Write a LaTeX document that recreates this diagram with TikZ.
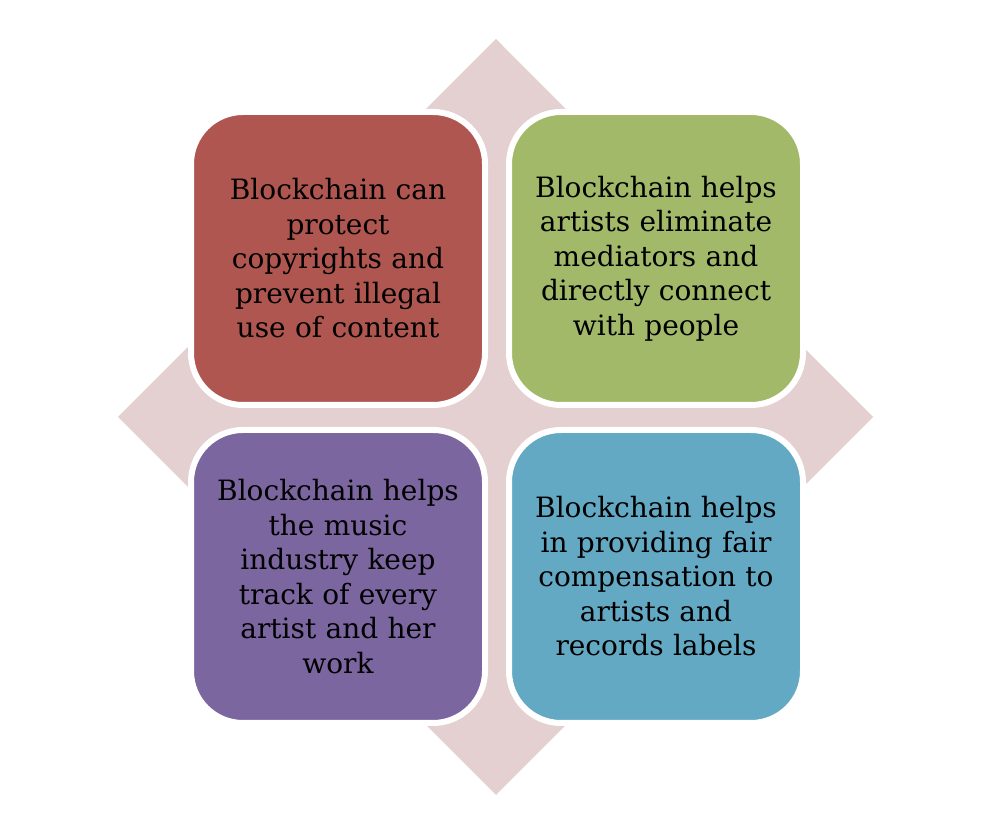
\documentclass[tikz,border=0pt]{standalone}
\usepackage{fontspec}
\setmainfont{DejaVu Serif}
\usetikzlibrary{calc}
\definecolor{backpink}{RGB}{228,208,208}
\definecolor{tilered}{RGB}{176,86,80}
\definecolor{tilegreen}{RGB}{162,185,106}
\definecolor{tilepurple}{RGB}{123,102,160}
\definecolor{tileblue}{RGB}{100,169,195}

\begin{document}
\begin{tikzpicture}[x=1bp, y=1bp,
	tile/.style={draw=white, line width=6bp, rounded corners=52bp,
		minimum width=294bp, minimum height=293bp, inner sep=0pt,
		text width=280bp, align=center,
		font=\fontsize{28bp}{34.5bp}\selectfont}]
	\useasboundingbox (0,0) rectangle (1004,822);
	\coordinate (c) at (496,405);
	\fill[backpink] ($(c)+(0,378)$) -- ($(c)+(377,0)$) -- ($(c)+(0,-378)$) -- ($(c)+(-378,0)$) -- cycle;
	\node[tile, fill=tilered] (protect) at (338,563.5)
		{Blockchain can\\ protect\\ copyrights and\\ prevent illegal\\ use of content};
	\node[tile, fill=tilegreen] (connect) at (656,563.5)
		{Blockchain helps\\ artists eliminate\\ mediators and\\ directly connect\\ with people};
	\node[tile, fill=tilepurple] (track) at (338,245.5)
		{Blockchain helps\\ the music\\ industry keep\\ track of every\\ artist and her\\ work};
	\node[tile, fill=tileblue] (fair) at (656,245.5)
		{Blockchain helps\\ in providing fair\\ compensation to\\ artists and\\ records labels};
\end{tikzpicture}
\end{document}
